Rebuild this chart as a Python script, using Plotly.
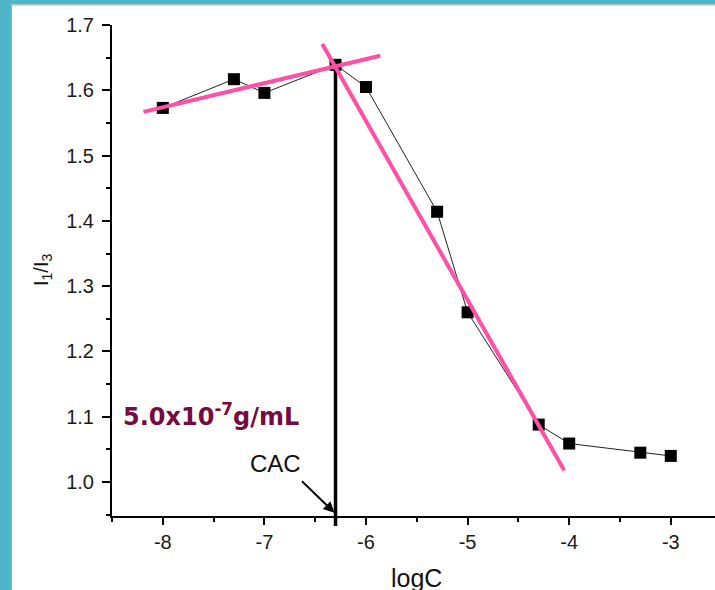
import plotly.graph_objects as go

# data
logc = [-8, -7.3, -7, -6.3, -6, -5.3, -5, -4.3, -4, -3.3, -3]
ratio = [1.573, 1.617, 1.596, 1.639, 1.605, 1.414, 1.260, 1.088, 1.059, 1.045, 1.040]

fit1_x = [-8.19, -5.86]
fit1_y = [1.567, 1.653]
fit2_x = [-6.43, -4.05]
fit2_y = [1.671, 1.018]

cac_logc = -6.3
cac_top = 1.645

x_tickvals = [-8, -7, -6, -5, -4, -3]
x_ticktext = ["-8", "-7", "-6", "-5", "-4", "-3"]
y_tickvals = [1.0, 1.1, 1.2, 1.3, 1.4, 1.5, 1.6, 1.7]
y_ticktext = ["1.0", "1.1", "1.2", "1.3", "1.4", "1.5", "1.6", "1.7"]

W, H = 715, 590
ML, MR, MT, MB = 112, 0, 25, 74
PW, PH = W - ML - MR, H - MT - MB
Y_RANGE = [0.948, 1.7]

def px(xp):
    return (xp - ML) / PW

def py(yp):
    return (H - MB - yp) / PH

def ydata_to_paper(v):
    return (v - Y_RANGE[0]) / (Y_RANGE[1] - Y_RANGE[0])

fig = go.Figure()

fig.add_trace(go.Scatter(
    x=logc, y=ratio, mode="lines+markers",
    line=dict(color="#222222", width=1),
    marker=dict(symbol="square", size=12, color="black"),
    showlegend=False,
))
fig.add_trace(go.Scatter(
    x=fit1_x, y=fit1_y, mode="lines",
    line=dict(color="#ff4fa7", width=4), showlegend=False,
))
fig.add_trace(go.Scatter(
    x=fit2_x, y=fit2_y, mode="lines",
    line=dict(color="#ff4fa7", width=4), showlegend=False,
))

teal = "#4fb5c9"
fig.add_shape(type="rect", xref="paper", yref="paper", layer="below",
              x0=px(0), x1=px(11), y0=py(H), y1=py(0),
              fillcolor=teal, line=dict(width=0))
fig.add_shape(type="rect", xref="paper", yref="paper", layer="below",
              x0=px(0), x1=1, y0=py(4.5), y1=py(0),
              fillcolor=teal, line=dict(width=0))
fig.add_shape(type="line", xref="paper", yref="paper", layer="below",
              x0=px(11.5), x1=px(11.5), y0=py(H), y1=py(4.5),
              line=dict(color="#9fb5ae", width=1))
fig.add_shape(type="line", xref="paper", yref="paper", layer="below",
              x0=px(11.5), x1=1, y0=py(5), y1=py(5),
              line=dict(color="#9fb5ae", width=1))

# CAC vertical line, extending a little below the x axis
fig.add_shape(type="line", xref="x", yref="paper", layer="below",
              x0=cac_logc, x1=cac_logc, y0=py(526), y1=ydata_to_paper(cac_top),
              line=dict(color="black", width=3.5))

fig.add_annotation(x=-6.31, y=0.953, xref="x", yref="y", text="",
                   showarrow=True, ax=-34, ay=-33, arrowhead=2,
                   arrowsize=1.1, arrowwidth=2, arrowcolor="black")
fig.add_annotation(x=-6.891, y=1.0287, xref="x", yref="y", text="CAC",
                   showarrow=False, xanchor="center", yanchor="middle",
                   font=dict(family="Liberation Sans, Arial", size=24, color="#111111"))
fig.add_annotation(x=-8.415, y=1.103, xref="x", yref="y",
                   text="<b>5.0x10<sup>-7</sup>g/mL</b>",
                   showarrow=False, xanchor="left", yanchor="middle",
                   font=dict(family="DejaVu Sans", size=24, color="#760a42"))

fig.add_annotation(x=px(416), y=py(578), xref="paper", yref="paper", text="logC",
                   showarrow=False, xanchor="center", yanchor="middle",
                   font=dict(family="Liberation Sans, Arial", size=25, color="#111111"))
fig.add_annotation(x=px(42), y=py(270), xref="paper", yref="paper",
                   text="I<sub>1</sub>/I<sub>3</sub>", textangle=-90,
                   showarrow=False, xanchor="center", yanchor="middle",
                   font=dict(family="Liberation Sans, Arial", size=20, color="#111111"))

axis_common = dict(
    showline=True, linecolor="black", linewidth=2,
    ticks="outside", tickwidth=2, tickcolor="black",
    showgrid=False, zeroline=False,
    tickfont=dict(family="Liberation Sans, Arial", size=20, color="#1a1a1a"),
)

fig.update_xaxes(
    range=[-8.5, -8.5 + PW / 101.6],
    tickmode="array", tickvals=x_tickvals, ticktext=x_ticktext,
    ticklen=7,
    minor=dict(ticks="outside", ticklen=4, tickwidth=2, tickcolor="black",
               tick0=-8.5, dtick=0.5),
    **axis_common,
)
fig.update_yaxes(
    range=Y_RANGE,
    tickmode="array", tickvals=y_tickvals, ticktext=y_ticktext,
    ticklen=8, ticklabelstandoff=4,
    minor=dict(ticks="outside", ticklen=4, tickwidth=2, tickcolor="black",
               tick0=0.95, dtick=0.05),
    **axis_common,
)

fig.update_layout(
    width=W, height=H,
    margin=dict(l=ML, r=MR, t=MT, b=MB, pad=0),
    paper_bgcolor="white", plot_bgcolor="white",
    showlegend=False,
)

fig.write_html(
    "out.html",
    config={"displayModeBar": False},
    post_script="document.body.style.margin='0';document.body.style.overflow='hidden';",
)
